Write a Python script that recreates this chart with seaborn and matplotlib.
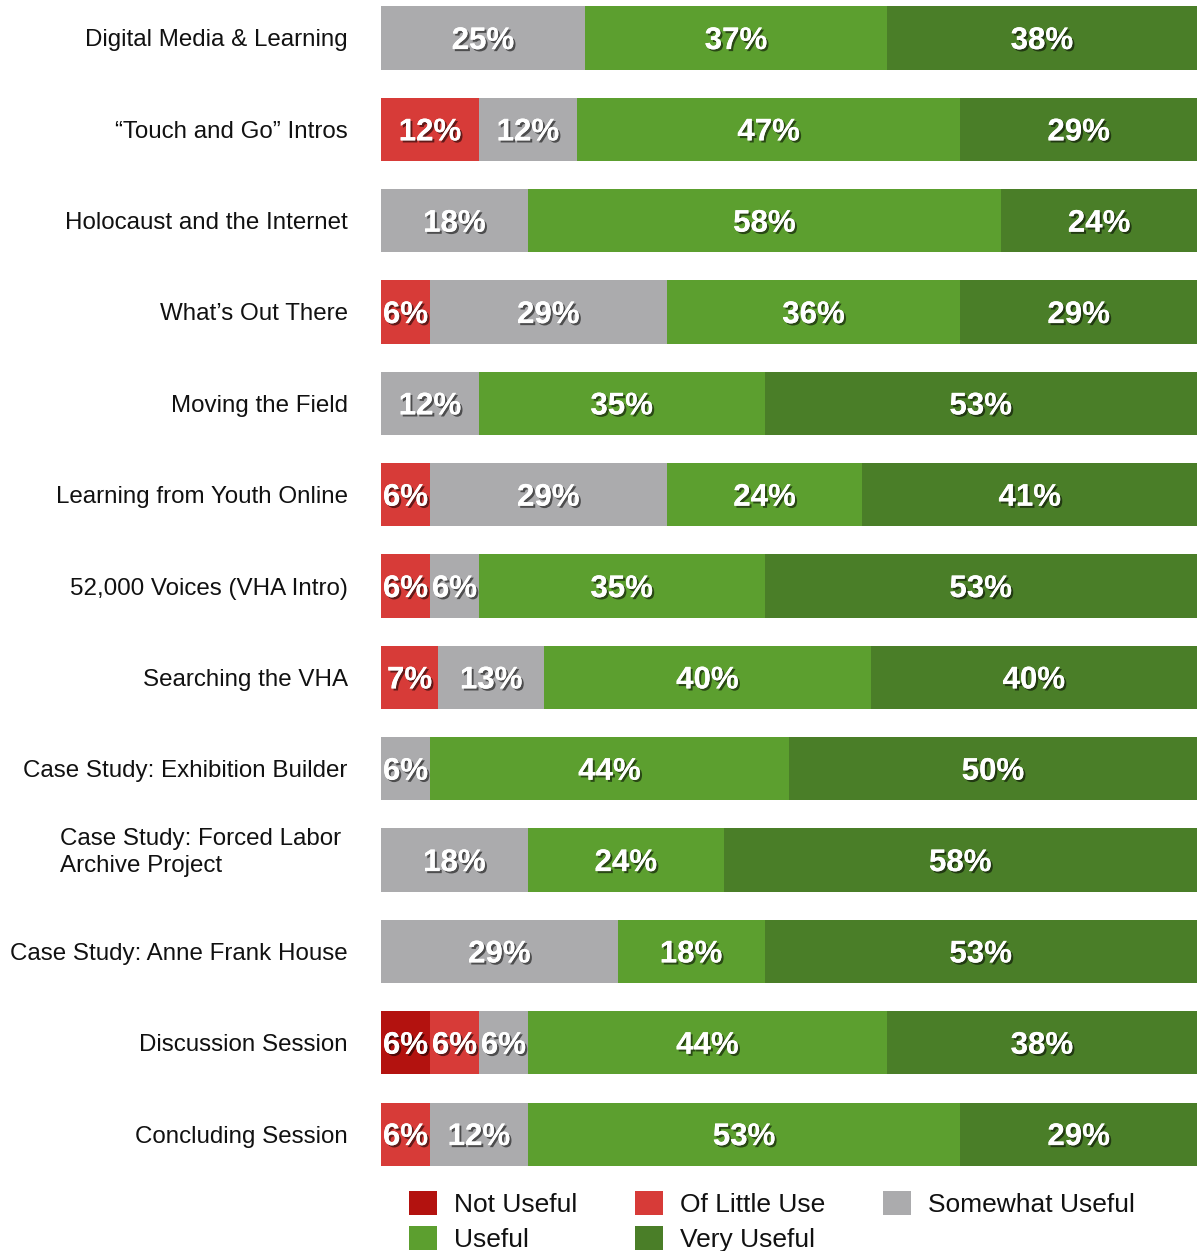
import matplotlib
matplotlib.use("Agg")
import matplotlib.pyplot as plt
from matplotlib import patheffects as pe
from matplotlib.patches import Patch
from matplotlib.transforms import ScaledTranslation
import numpy as np
import pandas as pd
import seaborn as sns

# Workshop sessions, top to bottom
sessions = [
    "Digital Media & Learning",
    "\u201cTouch and Go\u201d Intros",
    "Holocaust and the Internet",
    "What\u2019s Out There",
    "Moving the Field",
    "Learning from Youth Online",
    "52,000 Voices (VHA Intro)",
    "Searching the VHA",
    "Case Study: Exhibition Builder",
    "Case Study: Forced Labor\nArchive Project",
    "Case Study: Anne Frank House",
    "Discussion Session",
    "Concluding Session",
]

# Share of responses (%) per rating
levels = ["Not Useful", "Of Little Use", "Somewhat Useful", "Useful", "Very Useful"]
not_useful      = [0, 0, 0, 0, 0, 0, 0, 0, 0, 0, 0, 6, 0]
of_little_use   = [0, 12, 0, 6, 0, 6, 6, 7, 0, 0, 0, 6, 6]
somewhat_useful = [25, 12, 18, 29, 12, 29, 6, 13, 6, 18, 29, 6, 12]
useful          = [37, 47, 58, 36, 35, 24, 35, 40, 44, 24, 18, 44, 53]
very_useful     = [38, 29, 24, 29, 53, 41, 53, 40, 50, 58, 53, 38, 29]

colors = ["#b3120f", "#d73b38", "#ababad", "#5c9f2f", "#4a7e28"]

df = pd.DataFrame({
    "session": sessions,
    levels[0]: not_useful,
    levels[1]: of_little_use,
    levels[2]: somewhat_useful,
    levels[3]: useful,
    levels[4]: very_useful,
})
cum = df[levels].cumsum(axis=1)

sns.set_theme(style="white")
plt.rcParams["font.family"] = ["Liberation Sans", "DejaVu Sans"]

fig = plt.figure(figsize=(12.04, 12.51), dpi=100)
ax = fig.add_axes([381 / 1204, 81 / 1251, 816 / 1204, 1170 / 1251])

# Stacked bars: draw cumulative totals from the outermost level inward
for k in reversed(range(len(levels))):
    sns.barplot(x=cum[levels[k]], y=df["session"], color=colors[k],
                saturation=1, width=0.69, orient="h", linewidth=0,
                order=sessions, ax=ax)

shadow = [pe.withSimplePatchShadow(offset=(1.5, -1.5), shadow_rgbFace="black", alpha=0.55),
          pe.Normal()]

for i in range(len(sessions)):
    left = 0
    for lvl in levels:
        v = df.loc[i, lvl]
        if v > 0:
            ax.annotate(f"{v}%", xy=(left + v / 2, i), xytext=(0, -2.2),
                        textcoords="offset points", ha="center", va="center",
                        color="white", fontsize=22.5, fontweight="bold",
                        path_effects=shadow)
        left += v

ax.set_xlim(0, 100)
ax.set_ylim(12.394, -0.416)
ax.set_xlabel("")
ax.set_ylabel("")
ax.set_xticks([])
ax.tick_params(axis="y", length=0, pad=24, labelsize=17.4, labelcolor="#111111")
for lab in ax.get_yticklabels():
    if "\n" in lab.get_text():
        lab.set_multialignment("left")
        lab.set_linespacing(1.35)
        lab.set_transform(lab.get_transform()
                          + ScaledTranslation(-0.07, 0.13, fig.dpi_scale_trans))
for s in ax.spines.values():
    s.set_visible(False)

handles = [Patch(facecolor=c, edgecolor="none", label=l) for c, l in zip(colors, levels)]
order = [0, 3, 1, 4, 2]
fig.legend([handles[j] for j in order], [levels[j] for j in order],
           loc="upper left", bbox_to_anchor=(409 / 1204, 1 - 1191 / 1251),
           ncol=3, frameon=False, fontsize=19, borderpad=0, borderaxespad=0,
           handlelength=1.05, handleheight=1.05, handletextpad=0.66,
           columnspacing=2.18, labelspacing=0.32, labelcolor="#111111")

fig.savefig("out.png", dpi=100, facecolor="white")
